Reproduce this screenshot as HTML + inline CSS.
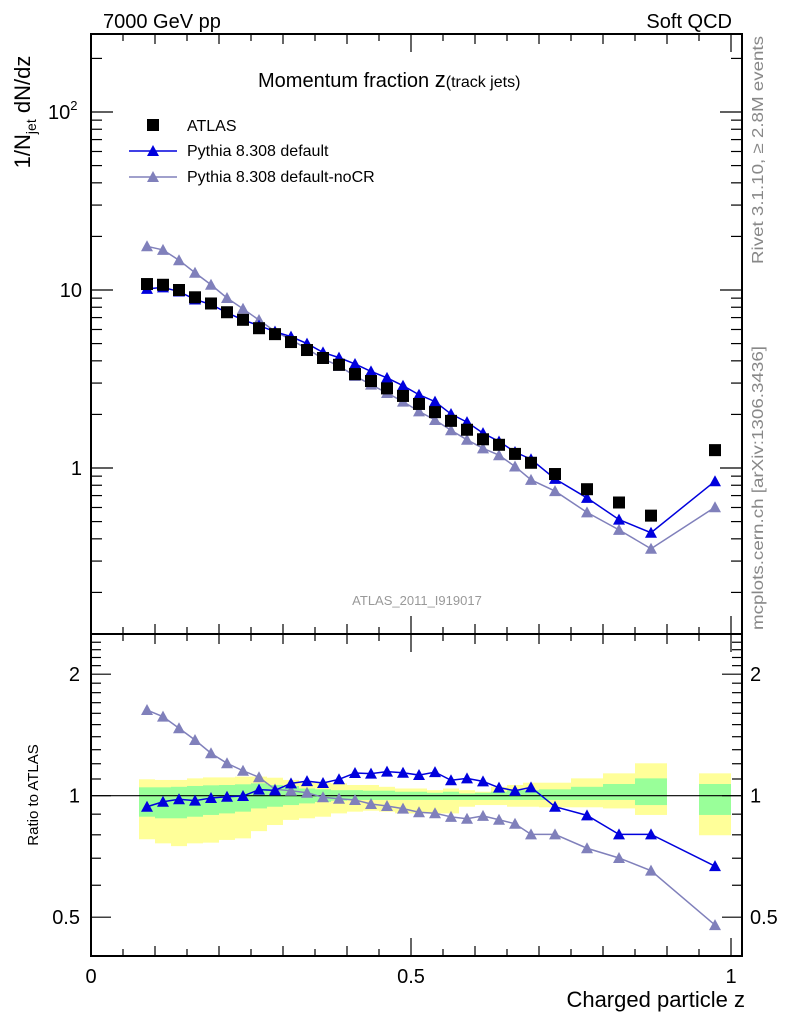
<!DOCTYPE html>
<html><head><meta charset="utf-8"><style>
html,body{margin:0;padding:0;background:#fff;}
svg{display:block;font-family:"Liberation Sans",sans-serif;}
</style></head><body>
<svg id="c" width="786" height="1024" viewBox="0 0 786 1024" xmlns="http://www.w3.org/2000/svg">
<g id="bands"></g>
<g id="axes"></g>
<g id="marks"></g>
<text x="103" y="28" font-size="20">7000 GeV pp</text>
<text x="732" y="28" font-size="20" text-anchor="end">Soft QCD</text>
<text x="258" y="87" font-size="20">Momentum fraction <tspan font-size="22">z</tspan><tspan font-size="16">(track jets)</tspan></text>
<g>
<rect x="147" y="119" width="12" height="12" fill="#000"/>
<text x="187" y="131" font-size="16">ATLAS</text>
<line x1="129" y1="151" x2="177" y2="151" stroke="#0000dd" stroke-width="1.5"/>
<polygon points="153,145 159,156 147,156" fill="#0000dd"/>
<text x="187" y="156" font-size="16">Pythia 8.308 default</text>
<line x1="129" y1="177" x2="177" y2="177" stroke="#8080bb" stroke-width="1.5"/>
<polygon points="153,171 159,182 147,182" fill="#8080bb"/>
<text x="187" y="182" font-size="16">Pythia 8.308 default-noCR</text>
</g>
<text x="417" y="605" font-size="13" fill="#999" text-anchor="middle">ATLAS_2011_I919017</text>
<text transform="translate(763,150) rotate(-90)" font-size="16" fill="#888" text-anchor="middle" textLength="228" lengthAdjust="spacingAndGlyphs">Rivet 3.1.10, ≥ 2.8M events</text>
<text transform="translate(763,488) rotate(-90)" font-size="16" fill="#888" text-anchor="middle" textLength="284" lengthAdjust="spacingAndGlyphs">mcplots.cern.ch [arXiv:1306.3436]</text>
<text transform="translate(30,112) rotate(-90)" font-size="22" text-anchor="middle">1/N<tspan font-size="14" dy="6">jet</tspan><tspan dy="-6"> dN/dz</tspan></text>
<text transform="translate(38,795) rotate(-90)" font-size="15" text-anchor="middle">Ratio to ATLAS</text>
<text x="745" y="1007" font-size="22" text-anchor="end">Charged particle z</text>
</svg>
<script>
const zCenters=[0.0875,0.1125,0.1375,0.1625,0.1875,0.2125,0.2375,0.2625,0.2875,0.3125,0.3375,0.3625,0.3875,0.4125,0.4375,0.4625,0.4875,0.5125,0.5375,0.5625,0.5875,0.6125,0.6375,0.6625,0.6875,0.725,0.775,0.825,0.875,0.975];
const binLo=[0.075,0.1,0.125,0.15,0.175,0.2,0.225,0.25,0.275,0.3,0.325,0.35,0.375,0.4,0.425,0.45,0.475,0.5,0.525,0.55,0.575,0.6,0.625,0.65,0.675,0.7,0.75,0.8,0.85,0.95];
const binHi=[0.1,0.125,0.15,0.175,0.2,0.225,0.25,0.275,0.3,0.325,0.35,0.375,0.4,0.425,0.45,0.475,0.5,0.525,0.55,0.575,0.6,0.625,0.65,0.675,0.7,0.75,0.8,0.85,0.9,1.0];
const atlas=[10.8,10.7,10.0,9.1,8.4,7.5,6.8,6.1,5.65,5.1,4.6,4.15,3.8,3.37,3.08,2.8,2.54,2.29,2.06,1.84,1.64,1.45,1.35,1.2,1.07,0.925,0.76,0.64,0.54,1.26];
const pyDefault=[10.14,10.34,9.80,8.85,8.29,7.46,6.79,6.31,5.83,5.47,5.00,4.46,4.17,3.84,3.49,3.21,2.90,2.58,2.36,2.01,1.81,1.57,1.41,1.23,1.12,0.869,0.679,0.513,0.433,0.843];
const pyNoCR=[17.6,16.8,14.7,12.5,10.7,9.02,7.84,6.78,5.86,5.25,4.68,4.11,3.74,3.29,2.94,2.64,2.36,2.08,1.86,1.63,1.44,1.29,1.18,1.02,0.858,0.742,0.563,0.449,0.352,0.602];
const ratioDefault=[0.939,0.966,0.980,0.972,0.987,0.994,0.998,1.035,1.031,1.073,1.087,1.075,1.098,1.138,1.134,1.147,1.140,1.125,1.144,1.092,1.104,1.085,1.047,1.029,1.049,0.939,0.894,0.802,0.802,0.669];
const ratioNoCR=[1.63,1.57,1.469,1.374,1.274,1.203,1.153,1.111,1.037,1.029,1.017,0.991,0.983,0.976,0.954,0.943,0.929,0.910,0.905,0.886,0.877,0.891,0.872,0.852,0.802,0.802,0.741,0.701,0.652,0.478];
const yellowHi=[1.098,1.094,1.094,1.104,1.110,1.110,1.115,1.115,1.108,1.094,1.083,1.077,1.073,1.063,1.063,1.052,1.042,1.042,1.032,1.042,1.032,1.023,1.052,1.063,1.077,1.077,1.104,1.136,1.203,1.136];
const yellowLo=[0.780,0.762,0.750,0.762,0.765,0.777,0.784,0.817,0.846,0.871,0.879,0.887,0.904,0.913,0.918,0.913,0.904,0.904,0.904,0.904,0.939,0.948,0.948,0.939,0.939,0.936,0.936,0.930,0.896,0.798];
const greenHi=[1.049,1.049,1.052,1.057,1.061,1.063,1.067,1.073,1.063,1.057,1.042,1.037,1.032,1.032,1.029,1.029,1.023,1.023,1.017,1.023,1.013,1.017,1.023,1.032,1.032,1.037,1.052,1.069,1.104,1.069];
const greenLo=[0.887,0.879,0.879,0.887,0.896,0.904,0.913,0.930,0.939,0.948,0.957,0.965,0.972,0.976,0.976,0.976,0.976,0.976,0.976,0.976,0.976,0.976,0.976,0.976,0.976,0.976,0.976,0.976,0.948,0.896];

const L=91,R=742,T=34,MB=634,RB=956;
const X=z=>91+640*z;
const Y=v=>468-178*Math.log10(v);
const RY=r=>795.7-121.5*Math.log2(r);
const NS="http://www.w3.org/2000/svg";
function mk(tag,attrs,parent){const e=document.createElementNS(NS,tag);for(const k in attrs)e.setAttribute(k,attrs[k]);parent.appendChild(e);return e;}
const axes=document.getElementById('axes'),bands=document.getElementById('bands'),marks=document.getElementById('marks');

for(let i=0;i<zCenters.length;i++){
  const y=mk('rect',{x:X(binLo[i]),y:RY(yellowHi[i]),width:X(binHi[i])-X(binLo[i]),height:RY(yellowLo[i])-RY(yellowHi[i]),fill:'#ffff99'},bands);
  
  
  const g=mk('rect',{x:X(binLo[i]),y:RY(greenHi[i]),width:X(binHi[i])-X(binLo[i]),height:RY(greenLo[i])-RY(greenHi[i]),fill:'#99ff99'},bands);
  
  
}
const f1=mk('rect',{x:L,y:T,width:R-L,height:MB-T,fill:'none',stroke:'#000','stroke-width':2},axes);


const f2=mk('rect',{x:L,y:MB,width:R-L,height:RB-MB,fill:'none',stroke:'#000','stroke-width':2},axes);


const one=mk('line',{x1:L,x2:R,y1:RY(1),y2:RY(1),stroke:'#000','stroke-width':1.2},axes);


for(let k=0;k<=20;k++){const z=k*0.05,x=X(z);const len=(k%10==0)?18:(k%2==0?10:7);
  for(const yb of [T,MB,RB]){mk('line',{x1:x,x2:x,y1:yb,y2:yb==T?T+len:yb-len,stroke:'#000','stroke-width':1.2},axes);
   if(yb==MB)mk('line',{x1:x,x2:x,y1:MB,y2:MB+len,stroke:'#000','stroke-width':1.2},axes);}
}
for(let d=-1;d<=2;d++)for(let m=1;m<=9;m++){const v=m*Math.pow(10,d);const y=Y(v);if(y<T||y>MB)continue;const len=m==1?22:11;
  mk('line',{x1:L,x2:L+len,y1:y,y2:y,stroke:'#000','stroke-width':1.2},axes);
  mk('line',{x1:R,x2:R-len,y1:y,y2:y,stroke:'#000','stroke-width':1.2},axes);}
for(let k=5;k<=24;k++){const v=k/10,y=RY(v);if(y<MB||y>RB)continue;const len=(k==5||k==10||k==20)?20:10;
  mk('line',{x1:L,x2:L+len,y1:y,y2:y,stroke:'#000','stroke-width':1.2},axes);
  mk('line',{x1:R,x2:R-len,y1:y,y2:y,stroke:'#000','stroke-width':1.2},axes);}
function txt(s,x,y,sz,anc,name){const t=mk('text',{x:x,y:y,'font-size':sz,'text-anchor':anc},axes);t.textContent=s;return t;}
const t2=txt('10',48,Y(100)+7,20,'start','y-tick-100');const sup=mk('tspan',{'font-size':13,dy:-9},t2);sup.textContent='2';
txt('10',82,Y(10)+7,20,'end','y-tick-10');
txt('1',82,Y(1)+7,20,'end','y-tick-1');
const xtl=['0','0.5','1'],xtv=[0,0.5,1];
for(let i=0;i<3;i++)txt(xtl[i],X(xtv[i]),983,20,'middle','x-tick-'+xtl[i]);
const rtl=['0.5','1','2'],rtv=[0.5,1,2];
for(let i=0;i<3;i++){txt(rtl[i],80,RY(rtv[i])+7,20,'end','ratio-tick-left-'+rtl[i]);txt(rtl[i],750,RY(rtv[i])+7,20,'start','ratio-tick-right-'+rtl[i]);}

function tri(x,y,c,parent,name){const p=mk('polygon',{points:`${x},${y-6} ${x+6},${y+5} ${x-6},${y+5}`,fill:c},parent);}
function series(vals,fy,c,name){let d='';vals.forEach((v,i)=>{d+=(i?'L':'M')+X(zCenters[i])+','+fy(v);});
  const p=mk('path',{d:d,fill:'none',stroke:c,'stroke-width':1.5},marks);
  vals.forEach((v,i)=>tri(X(zCenters[i]),fy(v),c,marks,name+'-point'));}
series(pyNoCR,Y,'#8080bb','nocr');
series(pyDefault,Y,'#0000dd','default');
atlas.forEach((v,i)=>{const r=mk('rect',{x:X(zCenters[i])-6,y:Y(v)-6,width:12,height:12,fill:'#000'},marks);
  
  });
series(ratioNoCR,RY,'#8080bb','ratio-nocr');
series(ratioDefault,RY,'#0000dd','ratio-default');
</script>
</body></html>
